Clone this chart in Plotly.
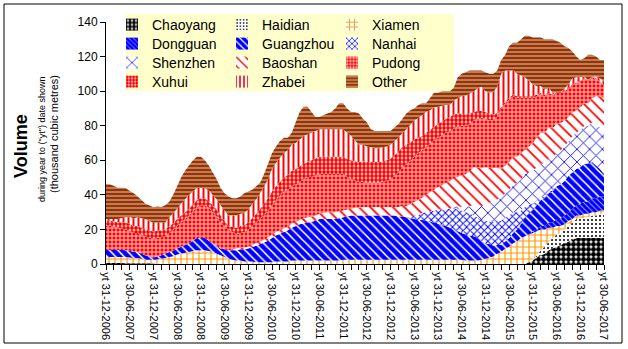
import pandas as pd
import plotly.graph_objects as go

# Monthly periods (year-to-date figures), Dec 2006 .. Jun 2017
months = pd.date_range("2006-12-31", "2017-06-30", freq="ME")
tick_labels = [
    "yt 31-12-2006", "yt 30-06-2007", "yt 31-12-2007", "yt 30-06-2008",
    "yt 31-12-2008", "yt 30-06-2009", "yt 31-12-2009", "yt 30-06-2010",
    "yt 31-12-2010", "yt 30-06-2011", "yt 31-12-2011", "yt 30-06-2012",
    "yt 31-12-2012", "yt 30-06-2013", "yt 31-12-2013", "yt 30-06-2014",
    "yt 31-12-2014", "yt 30-06-2015", "yt 31-12-2015", "yt 30-06-2016",
    "yt 31-12-2016", "yt 30-06-2017",
]

# Volumes by district, thousand cubic metres (one value per month)
chaoyang = [
    0.6, 0.6, 0.6, 0.6, 0.6, 0.5, 0.5, 0.5, 0.5, 0.5, 0.4, 0.4,
    0.3, 0.2, 0, 0, 0, 0, 0, 0, 0, 0, 0, 0,
    0, 0, 0, 0, 0, 0, 0, 0, 0, 0, 0, 0,
    0, 0, 0, 0, 0, 0, 0, 0, 0, 0, 0, 0,
    0, 0, 0, 0, 0, 0, 0, 0, 0, 0, 0, 0,
    0, 0, 0, 0, 0, 0, 0, 0, 0, 0, 0, 0,
    0, 0, 0, 0, 0, 0, 0, 0, 0, 0, 0, 0,
    0, 0, 0, 0, 0, 0, 0, 0, 0, 0, 0, 0,
    0, 0, 0, 0, 0, 0, 0, 0, 0, 0, 0, 1,
    2, 4, 5, 6, 8, 9, 10, 11, 12, 13, 14, 15,
    15, 15, 15, 15, 15, 15, 15,
]
haidian = [
    0, 0, 0, 0, 0, 0, 0, 0, 0, 0, 0, 0,
    0, 0, 0, 0, 0, 0, 0, 0, 0, 0, 0, 0,
    0, 0, 0, 0, 0, 0, 0, 0, 0, 0, 0, 0,
    0, 0, 0, 0, 0, 0, 0, 0, 0, 0, 0, 0,
    0, 0, 0, 0, 0, 0, 0, 0, 0, 0, 0, 0,
    0, 0, 0, 0, 0, 0, 0, 0, 0, 0, 0, 0,
    0, 0, 0, 0, 0, 0, 0, 0, 0, 0, 0, 0,
    0, 0, 0, 0, 0, 0, 0, 0, 0, 0, 0, 0,
    0, 0, 0, 0, 0, 0, 0, 0, 0, 0, 0, 0,
    0, 1, 3, 4, 5, 6, 7, 7, 8, 9, 10, 11,
    11, 12, 12, 13, 13, 14, 14,
]
xiamen = [
    3.5, 3.5, 3.5, 3.5, 3.5, 3.5, 3.2, 3, 3, 2.5, 2, 2,
    2, 2.5, 3, 3.5, 4, 4.5, 5.5, 6, 6.5, 7, 7.5, 8,
    8, 8, 7.5, 7, 6, 5, 4, 3, 2.5, 2, 2, 1.5,
    1.5, 1.5, 1, 1, 1, 1, 1, 1.5, 1.5, 1.5, 1.5, 2,
    2, 2, 2, 2, 2, 2, 2, 2, 2, 2, 2, 2,
    2.5, 2.5, 2.5, 2.5, 2.5, 2.5, 2.5, 2.5, 2.5, 2.5, 2.5, 2.5,
    2.5, 2.5, 2.5, 2.5, 2.5, 2.5, 2.5, 2.5, 2.5, 2.5, 2.5, 2.5,
    2.5, 2.5, 2.5, 2.5, 2.5, 2.5, 2.5, 2, 2, 2, 2, 2.5,
    3, 3.5, 4.5, 6, 7, 9, 10, 12, 13, 15, 16, 16,
    16, 14, 12, 10, 8, 6, 5, 4, 3, 3, 2, 2,
    2, 2, 2, 2, 2, 2, 2,
]
dongguan = [
    0, 0, 0, 0, 0, 0, 0, 0, 0, 0, 0, 0,
    0, 0, 0, 0, 0, 0, 0, 0, 0, 0, 0, 0,
    0, 0, 0, 0, 0, 0, 0, 0, 0, 0, 0, 0,
    0, 0, 0, 0, 0, 0, 0, 0, 0, 0, 0, 0,
    0, 0, 0, 0, 0, 0, 0, 0, 0, 0, 0, 0,
    0, 0, 0, 0, 0, 0, 0, 0, 0, 0, 0, 0,
    0, 0, 0, 0, 0, 0, 0, 0, 0, 0, 0, 0,
    0, 0, 0, 0, 0, 0, 0, 0, 0, 0, 0, 0,
    0, 0, 0, 0, 0, 0, 0, 0, 0, 0, 0, 0,
    1, 1, 2, 2, 3, 3, 4, 4, 5, 5, 6, 6,
    7, 7, 7, 8, 8, 8, 8,
]
guangzhou = [
    4, 4, 4, 4, 4, 4, 4, 3.5, 3.5, 3, 2.5, 2,
    1.5, 1.5, 2, 2.5, 3, 3, 3.5, 4, 4.5, 5, 6, 7,
    7, 7, 6, 5, 4.5, 4, 4.5, 5, 5.5, 6, 6.5, 7,
    7.5, 8.5, 9.5, 10.5, 11.5, 12.5, 14, 15, 16, 17, 18, 19,
    20, 21, 21.5, 22, 22.5, 23, 24, 24, 24, 24, 24, 24.5,
    24.5, 25, 25.5, 25.5, 25.5, 25.5, 25.5, 25.5, 25.5, 25.5, 25.5, 25.5,
    25.5, 25.5, 25, 25, 24.5, 24, 23.5, 23, 23, 22.5, 22, 21.5,
    21, 20, 19.5, 18.5, 17.5, 16.5, 15.5, 15, 14.5, 14, 13, 11,
    9, 8, 6, 5, 4, 4, 5, 6, 7, 8, 11, 12,
    12, 14, 15, 16, 17, 18, 19, 20, 20, 21, 21, 21,
    21, 22, 22, 21, 19, 16, 13,
]
nanhai = [
    0, 0, 0, 0, 0, 0, 0, 0, 0, 0, 0, 0,
    0, 0, 0, 0, 0, 0, 0, 0, 0, 0, 0, 0,
    0, 0, 0, 0, 0, 0, 0, 0, 0, 0, 0, 0,
    0, 0, 0, 0, 0, 0, 0, 0, 0, 0, 0, 0,
    0, 0, 0, 0, 0, 0, 0, 0, 0, 0, 0, 0,
    0, 0, 0, 0, 0, 0, 0, 0, 0, 0, 0, 0,
    0, 0, 0, 0, 0, 1, 2, 3, 4, 5, 6, 7,
    8, 9, 10, 11, 12, 13, 13, 13, 13, 12, 12, 12,
    13, 13, 14, 14, 14, 14, 13, 12, 10, 8, 6, 5,
    4, 3, 2, 1, 1, 0.5, 0, 0, 0, 0, 0, 0,
    0, 0, 0, 0, 0, 0, 0,
]
shenzhen = [
    0, 0, 0, 0, 0, 0, 0, 0, 0, 0, 0, 0,
    0, 0, 0, 0, 0, 0, 0, 0, 0, 0, 0, 0,
    0, 0, 0, 0, 0, 0, 0, 0, 0, 0, 0, 0,
    0, 0, 0, 0, 0, 0, 0, 0, 0, 0, 0, 0,
    0, 0, 0, 0, 0, 0, 0, 0, 0, 0, 0, 0,
    0, 0, 0, 0, 0, 0, 0, 0, 0, 0, 0, 0,
    0, 0, 0, 0, 0, 0, 0, 0, 0, 0, 0, 0,
    0, 0, 0, 0, 1, 1.5, 2, 3, 4, 6, 7, 8,
    10, 11, 12, 12.5, 13, 14, 15, 16, 17, 18, 19, 19,
    19, 19, 19, 19, 19, 19, 19, 19.5, 20, 20, 21, 21,
    21.5, 22, 22, 23, 24, 24, 25,
]
baoshan = [
    0, 0, 0, 0, 0, 0, 0, 0, 0, 0, 0, 0,
    0, 0, 0, 0, 0, 0, 0, 0, 0, 0, 0, 0,
    0, 0, 0, 0, 0, 0, 0, 0, 0.5, 1, 1, 1,
    1, 1, 1.5, 1.5, 1.5, 2, 2, 2, 2, 2, 2, 2.5,
    2.5, 2.5, 3, 3, 3, 3, 3, 3.5, 4, 4, 4, 4,
    4, 4, 4, 4.5, 4.5, 5, 5, 5, 5, 5, 5, 5,
    5, 5, 5.5, 6, 6.5, 7, 8, 8.5, 9, 10, 11, 12,
    13, 14, 15, 16, 16.5, 17, 18, 19, 20, 22, 22, 22,
    21, 20, 19, 18, 17, 16, 16, 16, 15, 15, 14, 15,
    16, 17, 18, 18, 18, 17, 17, 16, 15, 14, 13.5, 13,
    13, 13, 13, 14, 16, 18, 19,
]
pudong = [
    14, 14, 13.5, 13, 12.5, 12, 11.5, 11, 11, 11, 11, 11,
    11, 11, 10.5, 10, 11, 12, 13, 14, 15, 16, 17, 18,
    19, 19, 19, 18, 17, 15, 13.5, 12, 10, 8, 8.5, 9,
    10, 11, 12, 13, 14, 15, 17, 18.5, 20, 21.5, 21.5, 21.5,
    21.5, 22, 22.5, 23, 23, 23, 23, 22.5, 22, 22, 22, 21.5,
    21, 19, 17, 16, 15, 14.5, 14, 14, 14, 14, 14.5, 15,
    16, 18, 20, 22.5, 24, 25, 26, 27, 27.5, 28, 28, 28.5,
    28.5, 29, 29, 29, 29, 29, 29, 28, 27.5, 27, 28, 29,
    28, 27.5, 28, 30, 35, 36, 36, 35, 34, 32, 30, 28,
    26, 24, 22, 21, 20, 19, 18, 17.5, 17, 16.5, 16, 15.5,
    15, 14, 13, 12, 10, 8, 7,
]
xuhui = [
    3, 3, 3, 3, 3.5, 4, 4, 4, 4, 4, 4, 4,
    4, 4, 4, 4, 4, 4, 4, 4, 4, 4, 4, 4,
    4, 4, 4, 4, 4, 4, 3, 2, 3, 4, 4, 4,
    4, 4.5, 5, 6, 7, 7.5, 8, 8, 8, 8, 8.5, 9,
    9, 9, 9, 9, 9.5, 10, 10, 10, 10, 10, 10, 10,
    10, 10.5, 11, 11, 11.5, 12, 12, 12, 12, 12, 12, 12,
    12, 12, 12, 12, 11.5, 11, 10, 9, 8, 8, 8, 8,
    8, 8, 8, 8, 8, 7.5, 7, 6.5, 6, 5, 4.5, 4,
    4, 4, 3, 2, 1, 1, 1, 1, 1, 1, 1, 1,
    1, 1, 1, 1, 1, 0.5, 0.5, 0.5, 0.5, 0.5, 0.5, 0.5,
    0.5, 0.5, 0.5, 0.5, 0.5, 0.5, 0.5,
]
zhabei = [
    1, 1, 1.5, 2, 2.5, 3, 4, 4.5, 5, 5.5, 6, 5.5,
    5, 5, 4.5, 4, 5, 6, 6, 7, 7.5, 8, 7.5, 7,
    6, 6, 6, 6, 6, 6, 6, 6, 6.5, 7, 7, 7,
    7.5, 8, 8.5, 9, 10, 11, 13, 13.5, 14, 14, 14.5, 15,
    15, 15.5, 16, 16, 16, 16, 16, 16, 16, 16, 16, 16,
    16, 15, 14, 12, 10, 9.5, 9, 8.5, 8, 8, 8, 8,
    8, 8, 8, 8, 9, 10, 11, 11.5, 12, 12, 11.5, 11,
    10, 9, 8, 7, 8, 9, 10, 11, 11.5, 12, 13, 14,
    12, 12, 13, 15, 19, 18, 16, 14, 13, 12, 11, 9,
    7, 5, 4, 3, 2, 1, 0, 0, 1, 2, 3.5, 3,
    2, 1, 0, 0, 1, 2, 2,
]
other = [
    20, 20, 19, 18, 17.5, 17, 15, 14.5, 12, 10.5, 9, 9,
    9, 9, 9, 10, 9, 10.5, 13, 15, 16.5, 17, 18, 18,
    18, 16, 14.5, 13, 11.5, 10, 10, 11, 10, 10, 10, 11.5,
    10.5, 8.5, 7.5, 6, 7, 9, 9, 9.5, 9.5, 9, 7, 7,
    12, 16, 17, 16, 12, 8, 7, 8, 9, 10, 12, 15,
    15, 14, 14, 16.5, 18, 15, 14, 10.5, 10, 10, 9.5, 9,
    8, 8, 8, 8, 9, 8.5, 7, 7.5, 7, 5, 7, 8.5,
    8, 8.5, 8, 8, 7.5, 12, 13, 13.5, 13.5, 12, 10.5, 9.5,
    11, 11, 10.5, 9.5, 8, 9, 14, 16, 18, 21, 24, 26,
    27, 28, 28, 29, 28, 31, 29.5, 28.5, 24.5, 21, 15.5, 12,
    10, 10.5, 14.5, 12.5, 11.5, 10.5, 12.5,
]

names = ["Chaoyang", "Haidian", "Xiamen", "Dongguan", "Guangzhou", "Nanhai",
         "Shenzhen", "Baoshan", "Pudong", "Xuhui", "Zhabei", "Other"]
values = [chaoyang, haidian, xiamen, dongguan, guangzhou, nanhai,
          shenzhen, baoshan, pudong, xuhui, zhabei, other]
for n, v in zip(names, values):
    assert len(v) == len(months), (n, len(v))

BLUE, RED, ORANGE, BROWN = "#0000FF", "#FF0000", "#FF9900", "#993300"
# fill pattern for each series: (shape, foreground, background, size, solidity)
patterns = {
    "Chaoyang": (".", "black", "white", 5, 0.75),
    "Haidian": (".", "black", "white", 4, 0.2),
    "Xiamen": ("+", ORANGE, "white", 6, 0.35),
    "Dongguan": ("\\", BLUE, "white", 4, 0.85),
    "Guangzhou": ("\\", BLUE, "white", 6, 0.75),
    "Nanhai": ("x", BLUE, "white", 5, 0.35),
    "Shenzhen": ("x", BLUE, "white", 9, 0.18),
    "Baoshan": ("\\", RED, "white", 8, 0.22),
    "Pudong": ("+", "white", RED, 4, 0.35),
    "Xuhui": (".", RED, "white", 4, 0.7),
    "Zhabei": ("|", RED, "white", 5, 0.4),
    "Other": ("-", "white", BROWN, 4, 0.18),
}


def fill_pattern(n):
    shp, fg, bg, sz, sol = patterns[n]
    return dict(shape=shp, fgcolor=fg, bgcolor=bg, size=sz, solidity=sol,
                fgopacity=1, fillmode="replace")


idx = list(range(len(months)))
fig = go.Figure()

for n, v in zip(names, values):
    fig.add_trace(go.Scatter(
        x=idx, y=v, name=n, stackgroup="vol", mode="none",
        fillcolor=patterns[n][2], fillpattern=fill_pattern(n),
        showlegend=False, legendgroup=n, hoverinfo="skip",
    ))

# legend keys: square swatches, three per row, four rows
legend_ids = ["legend", "legend2", "legend3", "legend4"]
for i, n in enumerate(names):
    fig.add_trace(go.Bar(
        x=[None], y=[None], name=n, legendgroup=n, legend=legend_ids[i // 3],
        marker=dict(color=patterns[n][2], line=dict(width=0), pattern=fill_pattern(n)),
        showlegend=True, hoverinfo="skip",
    ))

ML, MR, MT, MB = 106, 24, 22, 85
W, H = 628, 349
PW, PH = W - ML - MR, H - MT - MB


def px_x(x):
    return (x - ML) / PW


def px_y(y):
    return (H - MB - y) / PH


row_centers = [25, 44, 63, 82]
legend_layout = {}
for i, lid in enumerate(legend_ids):
    legend_layout[lid] = dict(
        orientation="h", x=px_x(112), xanchor="left", y=px_y(row_centers[i]), yanchor="middle",
        bgcolor="rgba(0,0,0,0)", borderwidth=0, font=dict(family="Arial", size=14, color="black"),
        entrywidth=65, entrywidthmode="pixels", traceorder="normal", itemclick=False,
        itemdoubleclick=False,
    )

tick_pos = [i for i, m in enumerate(months) if m.month in (6, 12)]

fig.update_layout(
    width=W, height=H,
    margin=dict(l=ML, r=MR, t=MT, b=MB, autoexpand=False),
    paper_bgcolor="white", plot_bgcolor="white",
    font=dict(family="Arial", color="black"),
    barmode="overlay",
    **legend_layout,
    xaxis=dict(
        range=[0, len(months) - 1], tickmode="array", tickvals=tick_pos, ticktext=tick_labels,
        tickangle=90, tickfont=dict(size=11), ticks="outside", ticklen=5, tickcolor="black",
        minor=dict(tickmode="linear", tick0=0, dtick=2, ticks="outside", ticklen=5, tickcolor="black"),
        showline=True, linecolor="black", linewidth=1, showgrid=False, zeroline=False,
    ),
    yaxis=dict(
        range=[0, 140], dtick=20, tickfont=dict(size=12), ticks="outside", ticklen=5,
        tickcolor="black", showline=True, linecolor="black", linewidth=1,
        showgrid=False, zeroline=False,
    ),
    shapes=[
        dict(type="rect", xref="paper", yref="paper", layer="below",
             x0=px_x(126), x1=px_x(454), y0=px_y(91), y1=px_y(14),
             fillcolor="#FFFFCC", line=dict(width=0)),
        dict(type="rect", xref="paper", yref="paper",
             x0=px_x(4), x1=px_x(622), y0=px_y(343), y1=px_y(4),
             line=dict(color="black", width=1), fillcolor="rgba(0,0,0,0)"),
    ],
    annotations=[
        dict(text="<b>Volume</b>", xref="paper", yref="paper", x=px_x(21), y=px_y(146),
             textangle=-90, showarrow=False, font=dict(size=18), xanchor="center", yanchor="middle"),
        dict(text='during year to ("yt") date shown', xref="paper", yref="paper",
             x=px_x(42), y=px_y(140), textangle=-90, showarrow=False, font=dict(size=9),
             xanchor="center", yanchor="middle"),
        dict(text="(thousand cubic metres)", xref="paper", yref="paper",
             x=px_x(54), y=px_y(134), textangle=-90, showarrow=False, font=dict(size=11),
             xanchor="center", yanchor="middle"),
    ],
)

fig.write_html("out.html")
